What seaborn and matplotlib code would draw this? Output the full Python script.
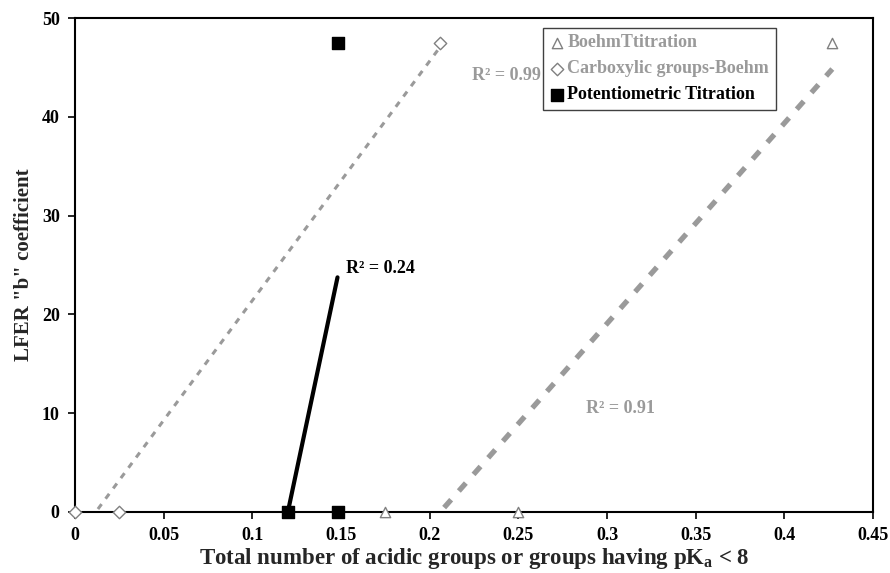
import numpy as np
import pandas as pd
import matplotlib
matplotlib.use("Agg")
import matplotlib.pyplot as plt
import seaborn as sns

# data
boehm_x = [0.175, 0.25, 0.427]
boehm_y = [0, 0, 47.5]
carbox_x = [0.0, 0.025, 0.206]
carbox_y = [0, 0, 47.5]
potent_x = [0.12, 0.148, 0.148]
potent_y = [0, 0, 47.5]

series_names = ["BoehmTtitration", "Carboxylic groups-Boehm", "Potentiometric Titration"]
r2_labels = ["R² = 0.91", "R² = 0.99", "R² = 0.24"]

x_ticks = [0, 0.05, 0.1, 0.15, 0.2, 0.25, 0.3, 0.35, 0.4, 0.45]
y_ticks = [0, 10, 20, 30, 40, 50]

GRAY = "#9a9a9a"

sns.set_style("ticks")
plt.rcParams["font.family"] = ["Liberation Serif", "DejaVu Serif"]
plt.rcParams["font.weight"] = "bold"
plt.rcParams["mathtext.fontset"] = "custom"
plt.rcParams["mathtext.rm"] = "Liberation Serif:bold"
plt.rcParams["mathtext.it"] = "Liberation Serif:bold"
plt.rcParams["mathtext.bf"] = "Liberation Serif:bold"

fig = plt.figure(figsize=(8.9, 5.73), dpi=100)
ax = fig.add_axes([0.0843, 0.1065, 0.8967, 0.862])

df_b = pd.DataFrame({"x": boehm_x, "y": boehm_y})
df_c = pd.DataFrame({"x": carbox_x, "y": carbox_y})
df_p = pd.DataFrame({"x": potent_x, "y": potent_y})

# linear trendlines over the data range
sns.regplot(data=df_c, x="x", y="y", ax=ax, scatter=False, ci=None, truncate=True,
            line_kws=dict(color=GRAY, lw=2.2, ls=(0, (2, 2.2))))
sns.regplot(data=df_b, x="x", y="y", ax=ax, scatter=False, ci=None, truncate=True,
            line_kws=dict(color=GRAY, lw=3.8, ls=(0, (2, 2.2))))
sns.regplot(data=df_p, x="x", y="y", ax=ax, scatter=False, ci=None, truncate=True,
            line_kws=dict(color="black", lw=3))

# points
sns.scatterplot(data=df_b, x="x", y="y", ax=ax, marker="^", s=55, color="white",
                edgecolor="#808080", linewidth=1, label=series_names[0], clip_on=False, zorder=5)
sns.scatterplot(data=df_c, x="x", y="y", ax=ax, marker="D", s=40, color="white",
                edgecolor="#808080", linewidth=1, label=series_names[1], clip_on=False, zorder=5)
sns.scatterplot(data=df_p, x="x", y="y", ax=ax, marker="s", s=75, color="black",
                edgecolor="black", linewidth=1, label=series_names[2], clip_on=False, zorder=5)

ax.text(0.288, 10.5, r2_labels[0], color=GRAY, fontsize=13, fontweight="bold", va="center")
ax.text(0.224, 44.2, r2_labels[1], color=GRAY, fontsize=13, fontweight="bold", va="center")
ax.text(0.153, 24.6, r2_labels[2], color="black", fontsize=13, fontweight="bold", va="center")

ax.set_xlim(0, 0.45)
ax.set_ylim(0, 50)
ax.set_xticks(x_ticks)
ax.set_xticklabels([f"{t:g}" for t in x_ticks])
ax.set_yticks(y_ticks)
for lab in ax.get_xticklabels() + ax.get_yticklabels():
    lab.set_fontweight("bold")
    lab.set_fontsize(13)
ax.tick_params(axis="both", direction="out", length=5, width=1.2, colors="black", pad=6)
for sp in ax.spines.values():
    sp.set_visible(True)
    sp.set_linewidth(1.5)
    sp.set_color("black")

ax.set_xlabel("Total number of acidic groups or groups having pK$_\\mathrm{a}$ < 8",
              fontsize=16.5, fontweight="bold", labelpad=1)
ax.set_ylabel('LFER "b" coefficient', fontsize=15, fontweight="bold", labelpad=6)

leg = ax.legend(loc="upper left", bbox_to_anchor=(0.5865, 0.98), frameon=True, fancybox=False,
                framealpha=1, edgecolor="#404040", handletextpad=0.2, handlelength=0.8,
                borderpad=0.35, labelspacing=0.5, borderaxespad=0,
                prop={"family": "Liberation Serif", "weight": "bold", "size": 13})
leg.get_frame().set_linewidth(1)
for txt, col in zip(leg.get_texts(), [GRAY, GRAY, "black"]):
    txt.set_color(col)

fig.savefig("out.png", dpi=100)
